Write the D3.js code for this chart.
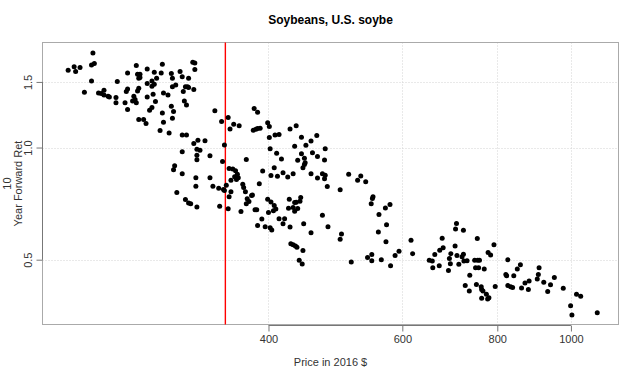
<!DOCTYPE html>
<html>
<head>
<meta charset="utf-8">
<script src="https://cdn.jsdelivr.net/npm/d3@7"></script>
<style>
  body { margin: 0; background: #fff; }
  svg { display: block; font-family: "Liberation Sans", Arial, sans-serif; }
</style>
</head>
<body>
<div id="chart"></div>
<script>
// price (2016 $) and the 10 year forward return
const price = [
  235, 218, 222, 223, 226, 234, 236, 234, 229, 239, 241, 243, 246, 247, 243, 252, 252, 253, 259, 261,
  260, 261, 261, 268, 269, 271, 270, 271, 266, 267, 265, 268, 269, 270, 270, 274, 276, 277, 277, 277,
  281, 283, 281, 282, 284, 281, 279, 283, 285, 289, 290, 291, 290, 291, 288, 296, 295, 298, 299, 299,
  302, 298, 300, 299, 306, 308, 309, 311, 313, 314, 310, 312, 314, 319, 318, 320, 320, 308, 312,
  340, 347, 354, 356, 360, 366, 319, 323, 330, 350, 308, 322, 325, 322, 322, 335, 348, 301, 300, 308,
  321, 335, 303, 321, 338, 311, 314, 316, 322, 345, 344, 349, 350, 352, 357, 355, 354, 368, 384, 386,
  400, 407, 409, 406, 399, 403, 355, 359, 362, 364, 361, 365, 363, 357, 370, 371, 373, 380, 381, 375,
  377, 374, 389, 393, 403, 407, 411, 374, 383, 387, 382, 385, 387, 390, 399, 401, 401, 408, 413, 402,
  410, 416, 418, 424, 431, 427, 435, 442, 433, 437, 442, 446, 447, 448, 455, 463, 457, 464, 475, 474,
  444, 446, 455, 464, 471, 475, 474, 478, 497, 510, 529, 524, 537, 546, 548, 549, 570, 578, 559, 471,
  479, 455, 499, 497, 514, 540, 547, 547, 563, 579, 587, 594, 558, 571, 572, 392, 387, 396, 402, 404,
  413, 420, 418, 427, 426, 433, 435, 441, 440, 425, 431, 433, 437, 445, 428, 431, 434, 436, 444, 439,
  443, 616, 619, 651, 657, 658, 662, 671, 672, 679, 677, 690, 692, 694, 695, 704, 705, 707, 722, 708,
  712, 719, 722, 723, 730, 726, 735, 736, 747, 749, 754, 758, 756, 751, 753, 762, 763, 766, 763, 769,
  774, 777, 780, 778, 784, 792, 795, 821, 823, 826, 826, 833, 838, 841, 850, 858, 861, 870, 881, 879,
  903, 908, 906, 921, 932, 940, 951, 977, 999, 1003, 1017, 1030, 1083
];
const fwdReturn = [
  1.795, 1.613, 1.647, 1.600, 1.640, 1.666, 1.681, 1.509, 1.407, 1.401, 1.396, 1.384, 1.373, 1.367, 1.425, 1.362, 1.318, 1.504, 1.318, 1.265,
  1.414, 1.436, 1.586, 1.661, 1.573, 1.573, 1.535, 1.542, 1.373, 1.345, 1.334, 1.318, 1.419, 1.443, 1.189, 1.189, 1.160, 1.626, 1.485, 1.367,
  1.509, 1.479, 1.461, 1.390, 1.329, 1.281, 1.259, 1.593, 1.535, 1.586, 1.674, 1.401, 1.238, 1.169, 1.111, 1.094, 1.384, 1.580, 1.535, 1.455,
  1.473, 1.291, 1.249, 1.198, 1.600, 1.548, 1.414, 1.455, 1.455, 1.449, 1.334, 1.301, 1.535, 1.431, 1.695, 1.687, 1.620, 1.081, 1.081,
  1.255, 1.175, 1.204, 1.122, 1.155, 1.145, 1.025, 1.046, 1.043, 1.016, 0.975, 0.989, 0.983, 0.954, 0.927, 0.950, 0.917, 0.894, 0.872, 0.851,
  0.830, 0.830, 0.757, 0.787, 0.787, 0.725, 0.710, 0.707, 0.693, 0.696, 0.777, 0.771, 0.767, 0.792, 0.761, 0.738, 0.685, 0.673, 0.681, 0.681,
  0.669, 0.699, 0.684, 0.677, 0.727, 0.714, 0.879, 0.876, 0.866, 0.848, 0.835, 0.830, 0.821, 0.817, 0.797, 0.781, 0.761, 0.743, 0.746, 0.729,
  0.716, 0.707, 0.800, 0.865, 0.841, 0.882, 0.838, 0.929, 1.273, 1.243, 1.113, 1.120, 1.125, 1.127, 1.166, 1.139, 1.064, 1.081, 1.084, 0.992,
  0.966, 0.932, 0.856, 0.834, 0.850, 1.122, 1.145, 1.066, 1.008, 0.924, 0.963, 0.936, 0.911, 1.014, 1.041, 1.077, 0.969, 0.946, 0.992, 0.926,
  0.883, 0.900, 0.851, 0.829, 0.851, 0.843, 0.824, 0.786, 0.770, 0.848, 0.839, 0.817, 0.810, 0.707, 0.730, 0.738, 0.688, 0.703, 0.661, 0.658,
  0.613, 0.591, 0.586, 0.567, 0.493, 0.507, 0.516, 0.497, 0.500, 0.482, 0.513, 0.527, 0.593, 0.559, 0.621, 0.643, 0.618, 0.613, 0.609, 0.601,
  0.644, 0.644, 0.624, 0.612, 0.727, 0.712, 0.713, 0.734, 0.718, 0.687, 0.690, 0.675, 0.686, 0.624, 0.552, 0.548, 0.544, 0.540, 0.529, 0.498,
  0.487, 0.564, 0.519, 0.498, 0.496, 0.476, 0.516, 0.482, 0.530, 0.538, 0.571, 0.468, 0.504, 0.488, 0.519, 0.544, 0.604, 0.625, 0.600, 0.513,
  0.486, 0.509, 0.517, 0.496, 0.497, 0.426, 0.412, 0.454, 0.498, 0.476, 0.498, 0.498, 0.476, 0.429, 0.570, 0.423, 0.416, 0.412, 0.394, 0.472,
  0.404, 0.392, 0.395, 0.523, 0.515, 0.548, 0.424, 0.456, 0.453, 0.500, 0.426, 0.423, 0.421, 0.453, 0.472, 0.485, 0.420, 0.433, 0.438, 0.416,
  0.444, 0.476, 0.456, 0.435, 0.411, 0.428, 0.448, 0.419, 0.376, 0.355, 0.404, 0.399, 0.360
];
const xTickValues = [400, 600, 800, 1000];
const yTickValues = [0.5, 1.0, 1.5];
const yTickLabels = ["0.5", "1.0", "1.5"];
const currentPrice = 351;

const width = 640, height = 378;
const plotLeft = 42.5, plotRight = 618.5, plotTop = 42.5, plotBottom = 324.5;

const x = d3.scaleLog().domain([201.7, 1155]).range([plotLeft, plotRight]);
const y = d3.scaleLog().domain([0.335, 1.914]).range([plotBottom, plotTop]);

const svg = d3.select('#chart').append('svg')
  .attr('width', width)
  .attr('height', height);

// title
svg.append('text')
  .attr('x', (plotLeft + plotRight) / 2)
  .attr('y', 24)
  .attr('text-anchor', 'middle')
  .style('font-size', '12px')
  .style('font-weight', 'bold')
  .text('Soybeans, U.S. soybe');

// dotted grid
const grid = svg.append('g')
  .attr('stroke', '#d3d3d3')
  .attr('stroke-dasharray', '1,2');
grid.selectAll('.gx').data(xTickValues).enter().append('line')
  .attr('x1', d => Math.round(x(d)) + 0.5).attr('x2', d => Math.round(x(d)) + 0.5)
  .attr('y1', plotTop).attr('y2', plotBottom);
grid.selectAll('.gy').data(yTickValues).enter().append('line')
  .attr('x1', plotLeft).attr('x2', plotRight)
  .attr('y1', d => Math.round(y(d)) + 0.5).attr('y2', d => Math.round(y(d)) + 0.5);

// box
svg.append('rect')
  .attr('x', plotLeft).attr('y', plotTop)
  .attr('width', plotRight - plotLeft).attr('height', plotBottom - plotTop)
  .attr('fill', 'none')
  .attr('stroke', '#aaa');

// x axis (R style, line only between first and last tick)
const xAxis = svg.append('g')
  .attr('transform', `translate(0,${plotBottom + 1})`)
  .call(d3.axisBottom(x).tickValues(xTickValues).tickFormat(d3.format('d')).tickSize(6).tickPadding(4));
xAxis.select('.domain').remove();
xAxis.append('line')
  .attr('x1', x(xTickValues[0])).attr('x2', x(xTickValues[xTickValues.length - 1]))
  .attr('stroke', '#777');
xAxis.selectAll('.tick line').attr('stroke', '#777');
xAxis.selectAll('.tick text')
  .attr('fill', '#333')
  .style('font-size', '11px')
  .style('font-family', '"Liberation Sans", Arial, sans-serif');

// y axis
const yAxis = svg.append('g')
  .attr('transform', `translate(${plotLeft},0)`)
  .call(d3.axisLeft(y).tickValues(yTickValues).tickFormat((d, i) => yTickLabels[i]).tickSize(6).tickPadding(4));
yAxis.select('.domain').remove();
yAxis.append('line')
  .attr('y1', y(yTickValues[0])).attr('y2', y(yTickValues[yTickValues.length - 1]))
  .attr('stroke', '#777');
yAxis.selectAll('.tick line').attr('stroke', '#777');
yAxis.selectAll('.tick text')
  .attr('fill', '#333')
  .attr('x', null).attr('dy', null)
  .attr('text-anchor', 'middle')
  .attr('transform', 'translate(-11,0) rotate(-90)')
  .style('font-size', '11px')
  .style('font-family', '"Liberation Sans", Arial, sans-serif');

// axis titles
svg.append('text')
  .attr('x', (plotLeft + plotRight) / 2)
  .attr('y', 366)
  .attr('text-anchor', 'middle')
  .attr('fill', '#333')
  .style('font-size', '11px')
  .text('Price in 2016 $');

const ylab = svg.append('text')
  .attr('transform', `translate(0,${(plotTop + plotBottom) / 2}) rotate(-90)`)
  .attr('text-anchor', 'middle')
  .attr('fill', '#333')
  .style('font-size', '11px');
ylab.append('tspan').attr('x', 0).attr('y', 11).text('10');
ylab.append('tspan').attr('x', 0).attr('y', 22).text('Year Forward Ret');

// current price marker
svg.append('line')
  .attr('x1', x(currentPrice)).attr('x2', x(currentPrice))
  .attr('y1', plotTop).attr('y2', plotBottom)
  .attr('stroke', '#ff0000')
  .attr('stroke-width', 1.4);

// points
svg.append('g').selectAll('circle')
  .data(price)
  .enter().append('circle')
    .attr('cx', d => x(d))
    .attr('cy', (d, i) => y(fwdReturn[i]))
    .attr('r', 2.5)
    .attr('fill', 'black');
</script>
</body>
</html>
